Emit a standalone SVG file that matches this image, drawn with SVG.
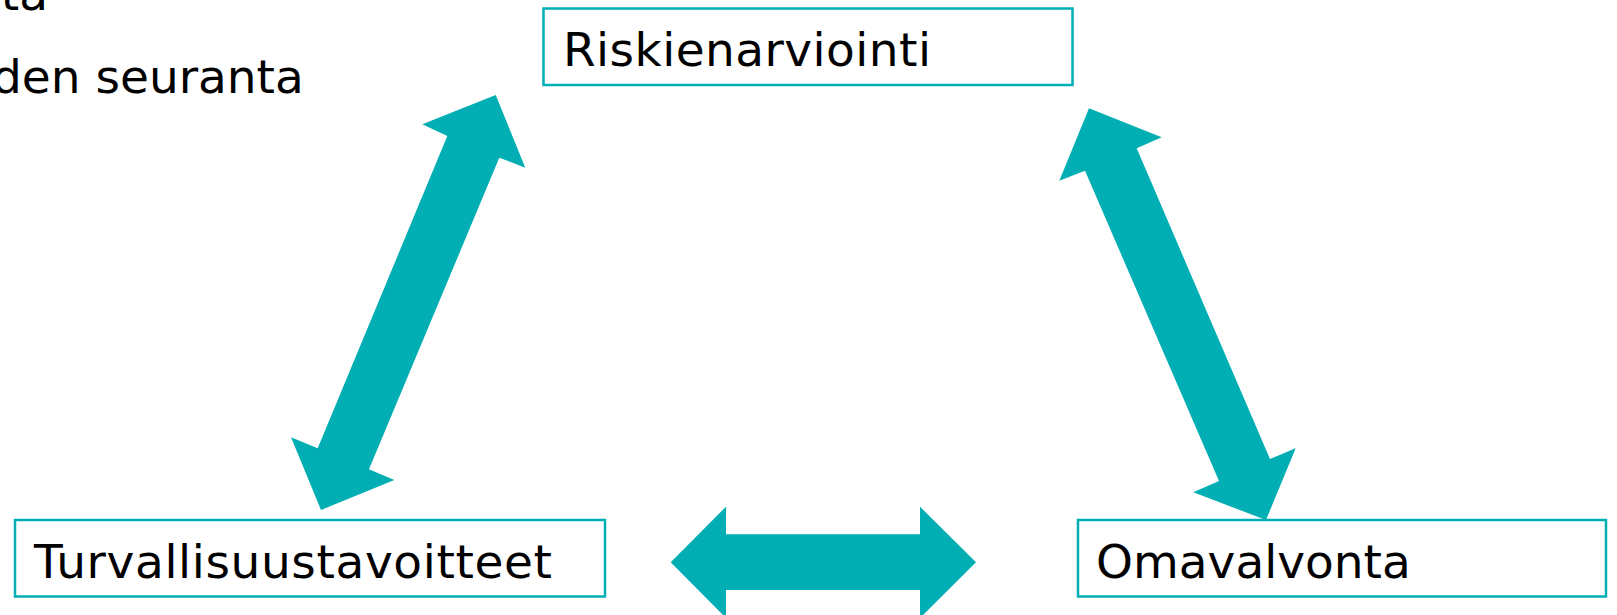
<svg xmlns="http://www.w3.org/2000/svg" width="1617" height="615" viewBox="0 0 1617 615">
<style>
.box{fill:#fff;stroke:#00AEB3;stroke-width:2.5}
.lbl{font-family:"DejaVu Sans",Verdana,sans-serif;font-size:47px;fill:#000}
.arr{fill:#00AEB3}
</style>
<rect width="1617" height="615" fill="#fff"/>
<g id="bg-text">
<text class="lbl" x="48" y="10" text-anchor="end">sta</text>
<text class="lbl" x="-8" y="92.5">den seuranta</text>
</g>
<g id="connectors">
<polygon class="arr" points="495.7,95 525.3,167.7 499.3,157.7 369,469.3 394.3,480 321,510 291,437.3 317.7,448.3 447.3,136 422.3,124.3"/>
<polygon class="arr" points="1089,108.3 1161.7,137.3 1136.7,148.3 1270,459 1295.7,448.3 1266,520 1193.3,492.3 1219,481 1085,170.7 1059.3,180.7"/>
<polygon class="arr" points="670.7,562.3 726,506.7 726,534.3 920,534.3 920,506.7 976,562.3 920,618 920,590 726,590 726,618"/>
</g>
<g id="node-riskienarviointi">
<rect class="box" x="543.5" y="8.5" width="529" height="76.5"/>
<text class="lbl" x="563" y="66" textLength="368" lengthAdjust="spacing">Riskienarviointi</text>
</g>
<g id="node-turvallisuustavoitteet">
<rect class="box" x="15" y="520" width="590" height="76.5"/>
<text class="lbl" x="34" y="577.5" textLength="518" lengthAdjust="spacing">Turvallisuustavoitteet</text>
</g>
<g id="node-omavalvonta">
<rect class="box" x="1078" y="520" width="528" height="76.5"/>
<text class="lbl" x="1096" y="577.5">Omavalvonta</text>
</g>
</svg>
